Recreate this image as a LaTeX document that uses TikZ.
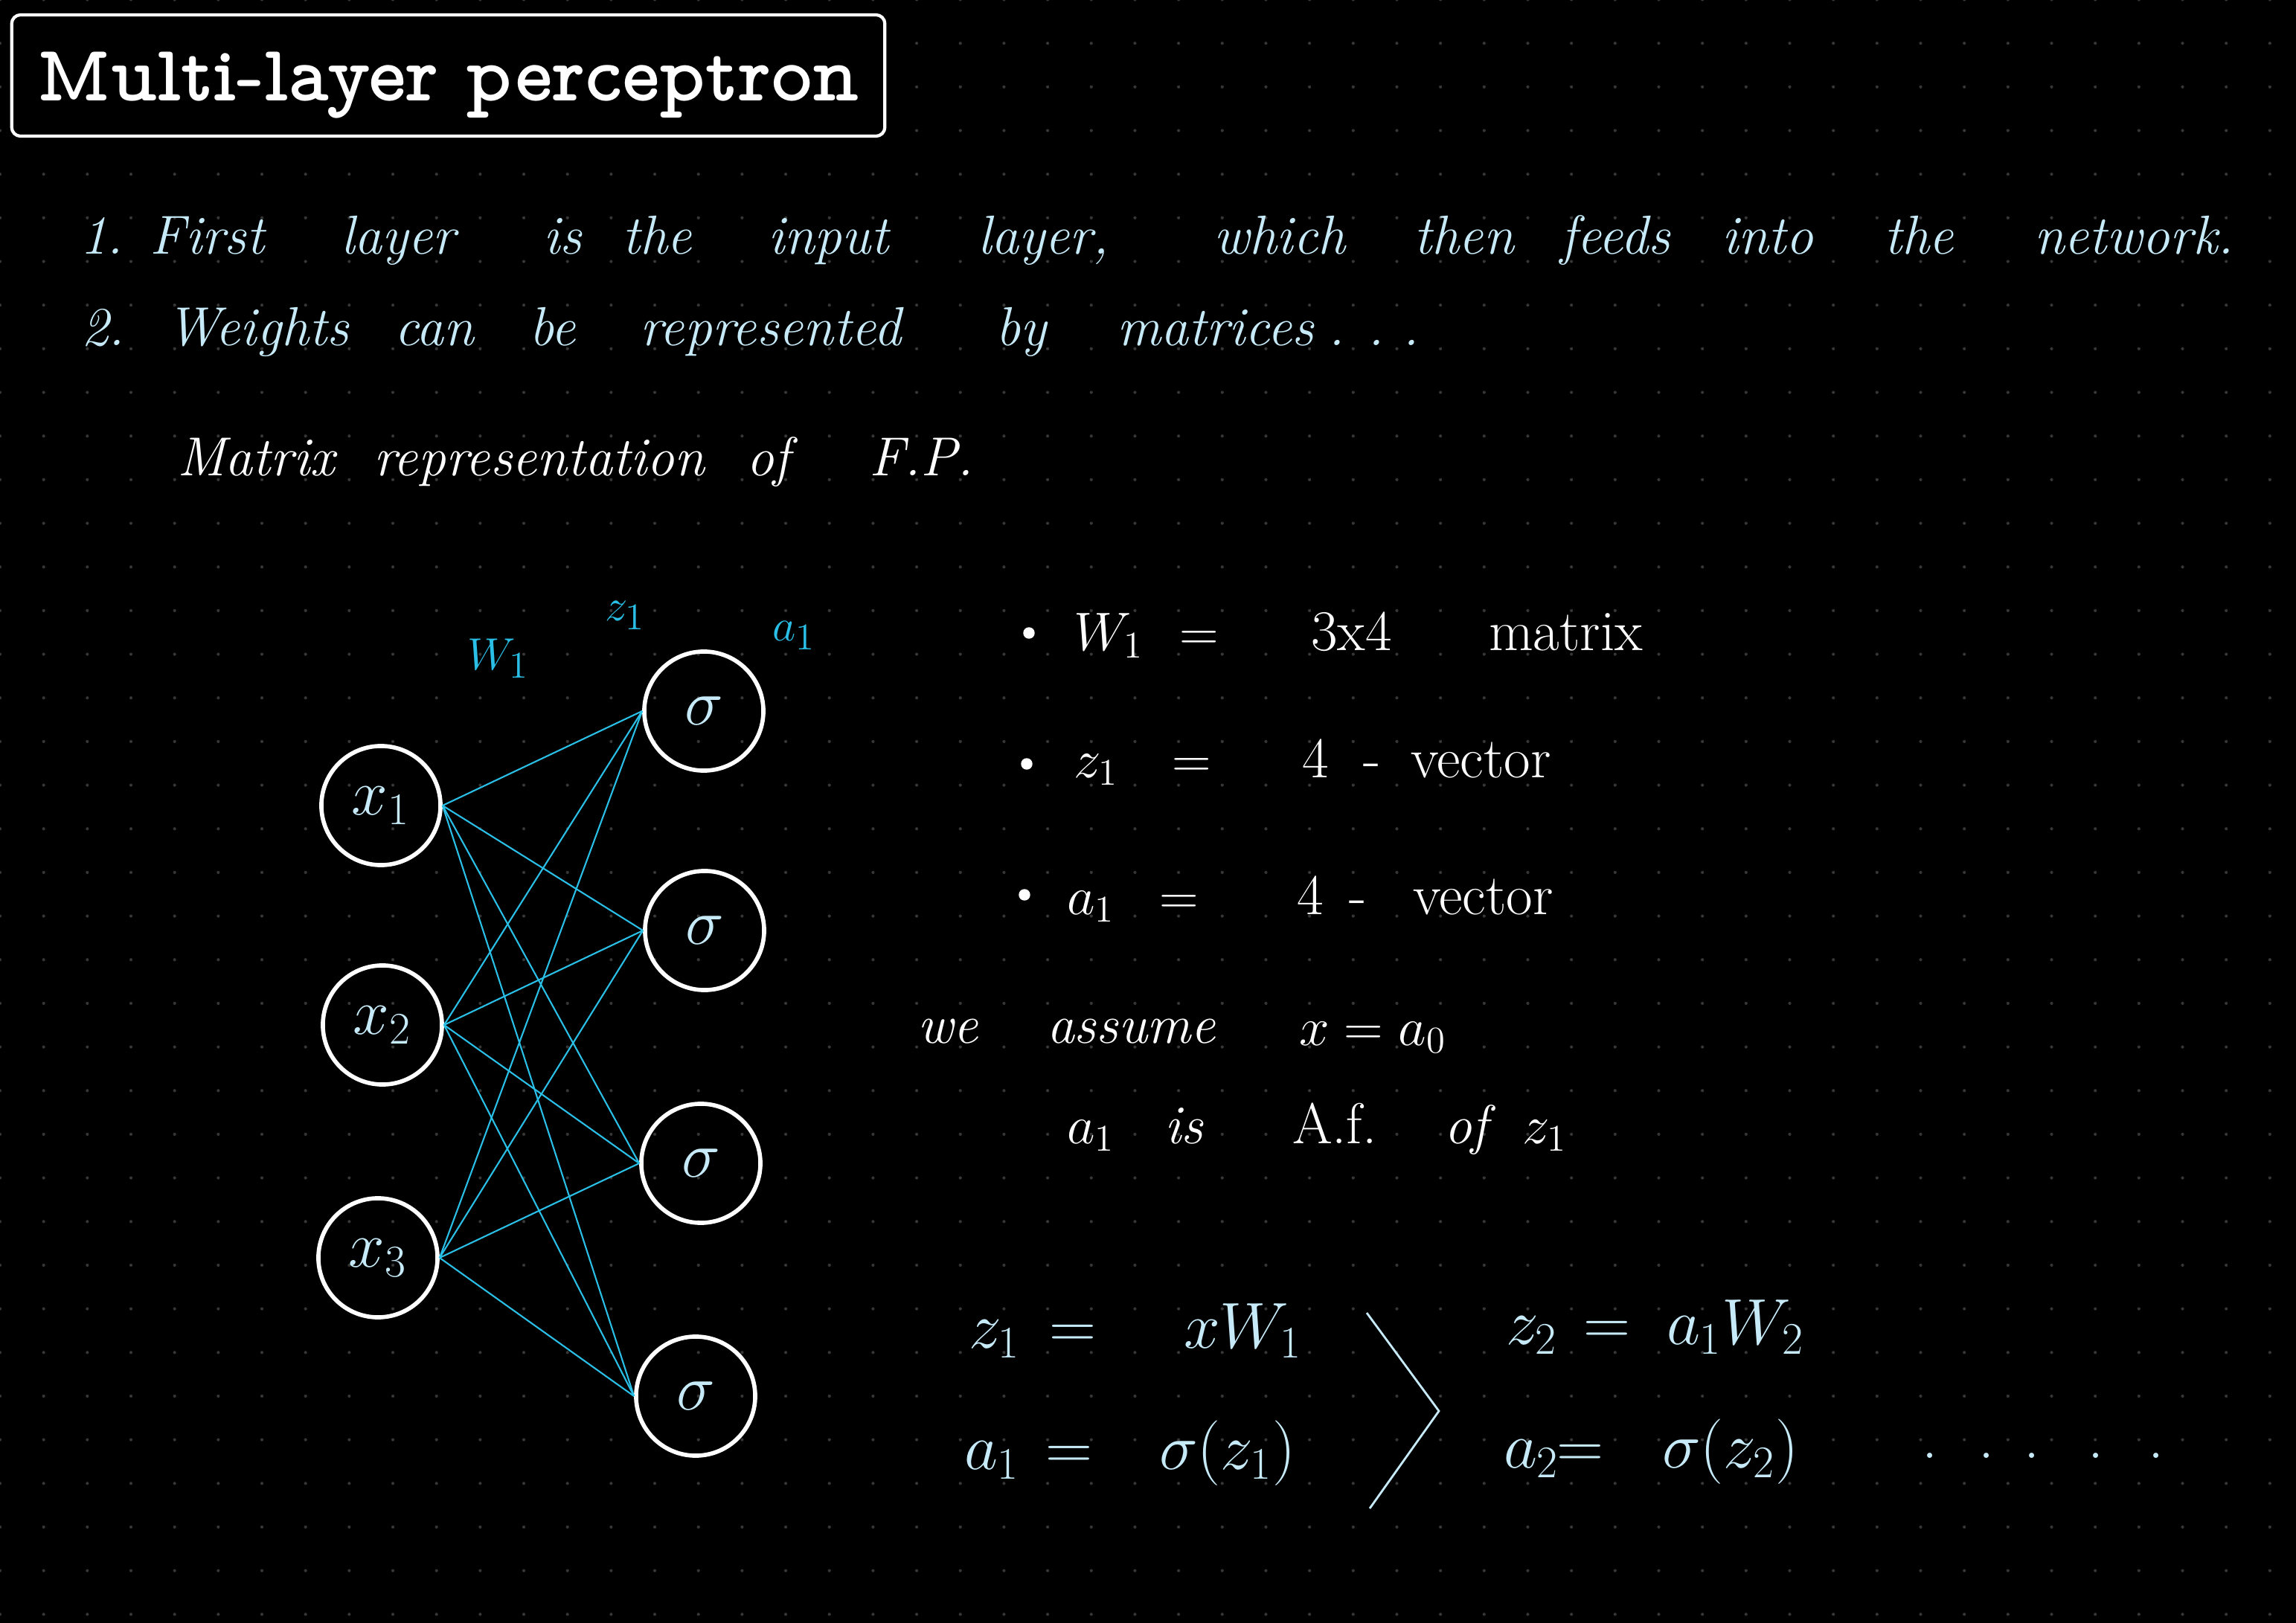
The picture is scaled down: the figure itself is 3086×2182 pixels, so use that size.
\documentclass[tikz,border=0pt]{standalone}
\usepackage{fontspec}
\definecolor{lb}{HTML}{C6EAF8}
\definecolor{cy}{HTML}{2ABFE6}
\definecolor{dotc}{HTML}{363636}
\tikzset{
 txt/.style={anchor=base west, inner sep=0pt, outer sep=0pt},
 cur/.style={txt, text=lb, font=\fontsize{21}{25}\selectfont\itshape},
 wcur/.style={txt, text=white, font=\fontsize{21}{25}\selectfont\itshape},
 note/.style={txt, text=white, font=\fontsize{22}{26}\selectfont},
 eq/.style={txt, text=lb, font=\fontsize{24}{28}\selectfont},
 lab/.style={txt, text=cy, font=\fontsize{19}{22}\selectfont},
 neuron/.style={circle, draw=white, line width=1.6pt, minimum size=1.6cm, inner sep=0pt, text=lb, font=\fontsize{24}{28}\selectfont},
 conn/.style={draw=cy, line width=0.6pt},
 titlebox/.style={draw=white, line width=1.2pt, rounded corners=0.12cm, fill=black, minimum width=11.73cm, minimum height=1.63cm, inner sep=0pt, text=white, text height=0.67cm, text depth=0cm, font=\fontsize{30.5}{34}\fontfamily{lmvtt}\selectfont\bfseries},
}
\begin{document}
\begin{tikzpicture}[x=0.01cm,y=-0.01cm]
% background
\fill[black] (0,0) rectangle (3086,2182);
\useasboundingbox (0,0) rectangle (3086,2182);
\foreach \i in {0,...,52}{\foreach \j in {0,...,37}{\fill[dotc] ({\i*58.67},{\j*58.67-0.5}) circle[radius=0.6pt];}}

% title
\node (title) [titlebox] at (602.5,101.5) {Multi-layer perceptron};

% line 1
\node (l1a) [cur] at (107,342) {1.};
\node (l1b) [cur] at (202,342) {First};
\node (l1c) [cur] at (458,342) {layer};
\node (l1d) [cur] at (730,342) {is};
\node (l1e) [cur] at (836,342) {the};
\node (l1f) [cur] at (1032,342) {input};
\node (l1g) [cur] at (1314,342) {layer,};
\node (l1h) [cur] at (1631,342) {which};
\node (l1i) [cur] at (1900,342) {then};
\node (l1j) [cur] at (2097,342) {feeds};
\node (l1k) [cur] at (2314,342) {into};
\node (l1l) [cur] at (2532,342) {the};
\node (l1m) [cur] at (2734,342) {network.};

% line 2
\node (l2a) [cur] at (109,465) {2.};
\node (l2b) [cur] at (223,465) {Weights};
\node (l2c) [cur] at (530,465) {can};
\node (l2d) [cur] at (711,465) {be};
\node (l2e) [cur] at (860,465) {represented};
\node (l2f) [cur] at (1338,465) {by};
\node (l2g) [cur] at (1501,465) {matrices\hspace{0.2cm}.\hspace{0.3cm}.\hspace{0.25cm}.};

% matrix representation
\node (m1) [wcur] at (238,640) {Matrix};
\node (m2) [wcur] at (502,640) {representation};
\node (m3) [wcur] at (1003,640) {of};
\node (m4) [wcur] at (1168,640) {F.P.};

% network
\node (x1) [neuron] at (512,1083) {$x_1$};
\node (x2) [neuron] at (514,1378) {$x_2$};
\node (x3) [neuron] at (508,1691) {$x_3$};
\node (s1) [neuron] at (946,956) {$\sigma$};
\node (s2) [neuron] at (947,1251) {$\sigma$};
\node (s3) [neuron] at (942,1564) {$\sigma$};
\node (s4) [neuron] at (935,1877) {$\sigma$};
\foreach \a in {x1,x2,x3}{\foreach \b in {s1,s2,s3,s4}{\draw[conn] (\a.east) -- (\b.west);}}

\node (lw) [lab] at (628,900) {$W_1$};
\node (lz) [lab] at (813,835) {$z_1$};
\node (la) [lab] at (1038,862) {$a_1$};

% notes
\fill[white] (1383,851) circle[radius=2.2pt];
\fill[white] (1380,1027) circle[radius=2.2pt];
\fill[white] (1377,1203) circle[radius=2.2pt];
\node (n1a) [note] at (1443,874) {$W_1$};
\node (n1b) [note] at (1585,874) {$=$};
\node (n1c) [note] at (1762,874) {3x4};
\node (n1d) [note] at (2001,874) {matrix};
\node (n2a) [note] at (1443,1045) {$z_1$};
\node (n2b) [note] at (1575,1045) {$=$};
\node (n2c) [note] at (1750,1045) {4};
\node (n2d) [note] at (1832,1045) {-};
\node (n2e) [note] at (1896,1045) {vector};
\node (n3a) [note] at (1434,1229) {$a_1$};
\node (n3b) [note] at (1558,1229) {$=$};
\node (n3c) [note] at (1743,1229) {4};
\node (n3d) [note] at (1813,1229) {-};
\node (n3e) [note] at (1899,1229) {vector};
\node (n4a) [wcur] at (1233,1402) {we};
\node (n4b) [wcur] at (1407,1402) {assume};
\node (n4c) [note] at (1746,1405) {$x = a_0$};
\node (n5a) [note] at (1434,1537) {$a_1$};
\node (n5b) [wcur] at (1565,1537) {is};
\node (n5c) [note] at (1737,1537) {A.f.};
\node (n5d) [wcur] at (1941,1537) {of};
\node (n5e) [note] at (2046,1537) {$z_1$};

% equations
\node (e1a) [eq] at (1302,1812) {$z_1$};
\node (e1b) [eq] at (1410,1812) {$=$};
\node (e1c) [eq] at (1591,1812) {$xW_1$};
\node (e2a) [eq] at (1296,1975) {$a_1$};
\node (e2b) [eq] at (1405,1975) {$=$};
\node (e2c) [eq] at (1558,1975) {$\sigma(z_1)$};
\draw[lb, line width=0.8pt] (1837,1765) -- (1934,1897) -- (1841,2028);
\node (e3a) [eq] at (2024,1807) {$z_2$};
\node (e3b) [eq] at (2128,1807) {$=$};
\node (e3c) [eq] at (2240,1807) {$a_1W_2$};
\node (e4a) [eq] at (2021,1973) {$a_2$};
\node (e4b) [eq] at (2092,1973) {$=$};
\node (e4c) [eq] at (2234,1973) {$\sigma(z_2)$};
\node (e4d) [eq] at (2583,1960) {.\hspace{0.55cm}.\hspace{0.4cm}.\hspace{0.65cm}.\hspace{0.6cm}.};
\end{tikzpicture}
\end{document}
